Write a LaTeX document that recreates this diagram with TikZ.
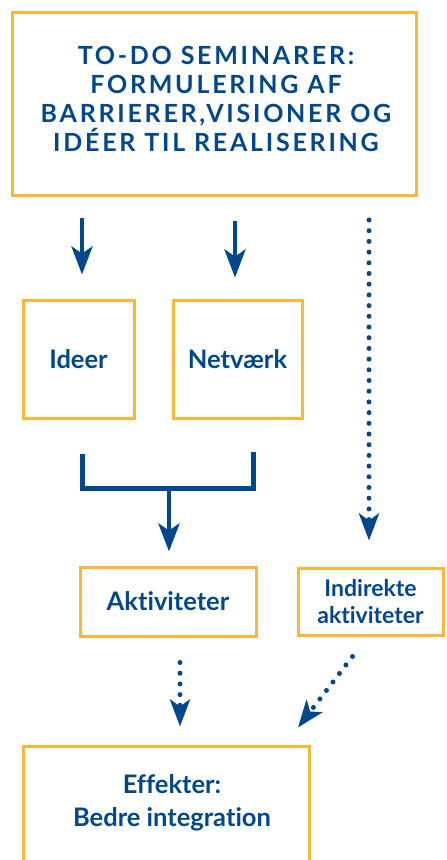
\documentclass[tikz,border=0pt]{standalone}
\usepackage{fontspec}
\setmainfont{Lato}[Ligatures={NoCommon}]
\usetikzlibrary{arrows.meta}
\definecolor{dblue}{HTML}{00478C}
\definecolor{gold}{HTML}{FBB838}
\tikzset{
  box/.style={draw=gold, line width=3pt, fill=white, inner sep=0pt, align=center,
    text=dblue, font=\bfseries\fontsize{25.5}{30}\selectfont},
  txt/.style={text=dblue, align=center, inner sep=0pt, font=\bfseries\fontsize{25.5}{33}\selectfont},
  arr/.style={draw=dblue, line width=4.5pt, -{Stealth[length=28pt,width=21pt,inset=7pt]}},
  dotarr/.style={draw=dblue, line width=5pt, line cap=round, dash pattern=on 0pt off 10.7pt,
    -{Stealth[length=27pt,width=20pt,inset=7pt]}},
  bracket/.style={draw=dblue, line width=5pt}
}
\begin{document}
\begin{tikzpicture}[x=1pt,y=-1pt]
\useasboundingbox (0,0) rectangle (447,860);
\clip (0,0) rectangle (447,860);
\node[box, minimum width=404pt, minimum height=183pt] (top) at (214,104) {};
\node[txt, font=\bfseries\fontsize{25}{29}\selectfont\addfontfeature{LetterSpace=11}] (toptxt) at (216,99)
  {TO-DO SEMINARER:\\ FORMULERING AF\\ BARRIERER,VISIONER OG\\ IDÉER TIL REALISERING};
\node[box, minimum width=111pt, minimum height=118pt] (ideer) at (78.5,359) {Ideer};
\node[box, minimum width=129pt, minimum height=118pt] (netv) at (237.5,359) {Netværk};
\node[box, minimum width=176pt, minimum height=69pt] (akt) at (168,601.5) {Aktiviteter};
\node[box, minimum width=145pt, minimum height=67pt, font=\bfseries\fontsize{23}{27}\selectfont] (indir) at (370.5,601.5) {Indirekte\\aktiviteter};
\node[box, minimum width=286pt, minimum height=130pt] (eff) at (166,811) {};
\node[txt] (efftxt) at (172,803) {Effekter:\\Bedre integration};
\coordinate (x82) at (82,0);
\coordinate (x235) at (235,0);
\coordinate (x369) at (369,0);
\coordinate (x180) at (180,0);
\draw[arr, shorten <=21pt, shorten >=24pt] (top.south -| x82) -- (ideer.north -| x82);
\draw[arr, shorten <=24pt, shorten >=21pt] (top.south -| x235) -- (netv.north -| x235);
\draw[dotarr, shorten <=23pt, shorten >=26pt] (top.south -| x369) -- (indir.north -| x369);
\coordinate (bl) at ([xshift=3.5pt,yshift=-34pt]ideer.south);
\coordinate (br) at (253,452);
\coordinate (bj) at (169,488);
\draw[bracket] (bl) |- (bj) -| (br);
\draw[arr, shorten >=14pt] (bj) -- (akt.north -| bj);
\draw[dotarr, shorten <=25pt, shorten >=18pt] (akt.south -| x180) -- (eff.north -| x180);
\draw[dotarr] ([xshift=-18pt,yshift=-20pt]indir.south) -- ([xshift=132pt,yshift=17pt]eff.north);
\end{tikzpicture}
\end{document}
